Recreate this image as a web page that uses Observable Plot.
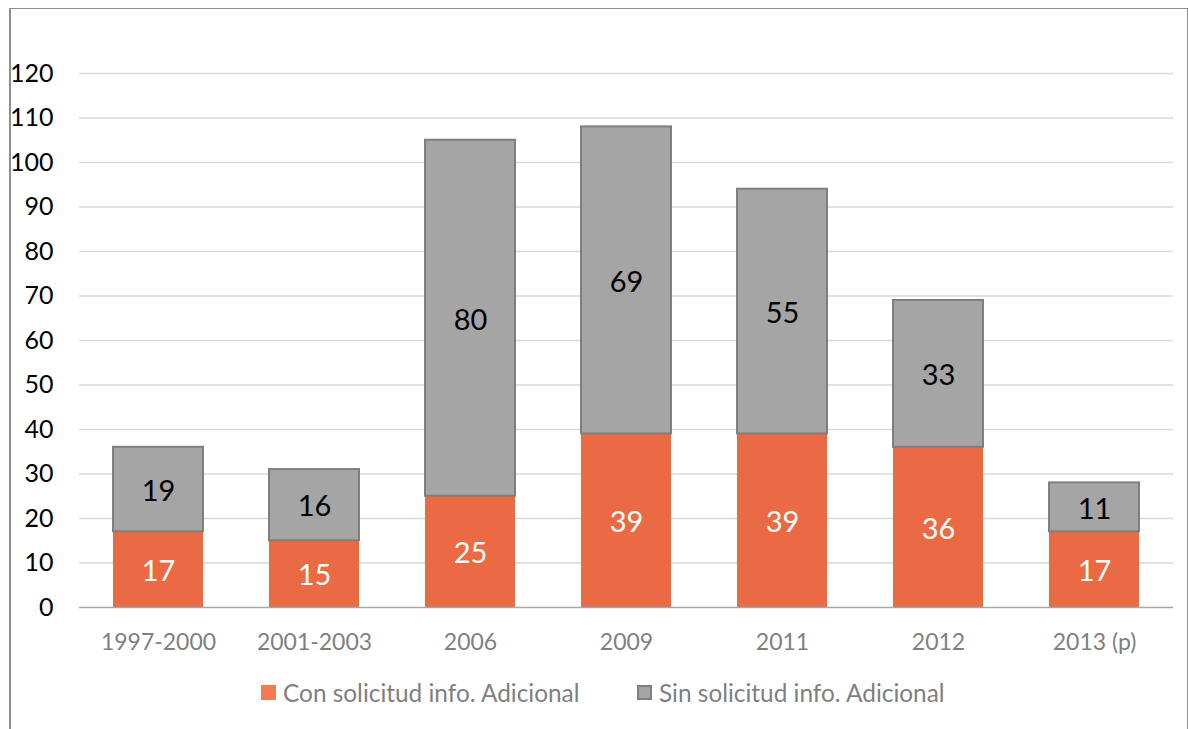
<!DOCTYPE html>
<html>
<head>
<meta charset="utf-8">
<script src="https://cdn.jsdelivr.net/npm/d3@7"></script>
<script src="https://cdn.jsdelivr.net/npm/@observablehq/plot@0.6"></script>
<style>
  html, body { margin: 0; padding: 0; background: #fff; }
  body { width: 1188px; height: 729px; position: relative; overflow: hidden; font-family: Lato, "Noto Sans", sans-serif; }
  #frame { position: absolute; left: 9px; top: 8px; width: 1176px; height: 760px;
           border-top: 1px solid #8f8f8f; border-left: 2px solid #8f8f8f; border-right: 2px solid #8f8f8f; }
  #chart { position: absolute; left: 0; top: 0; }
  #legend { position: absolute; left: 0; top: 0; width: 1188px; height: 729px; font-size: 24.4px; color: #7f7f7f; }
  .item { position: absolute; top: 678px; display: flex; align-items: center; white-space: nowrap; }
  .sw { width: 15px; height: 15px; margin-right: 7px; box-sizing: border-box; }
</style>
</head>
<body>
<div id="frame"></div>
<div id="chart"></div>
<div id="legend"></div>
<script>
const categories = ["1997-2000", "2001-2003", "2006", "2009", "2011", "2012", "2013 (p)"];
const conValues = [17, 15, 25, 39, 39, 36, 17];
const sinValues = [19, 16, 80, 69, 55, 33, 11];
const seriesNames = ["Con solicitud info. Adicional", "Sin solicitud info. Adicional"];
const yTicks = [0, 10, 20, 30, 40, 50, 60, 70, 80, 90, 100, 110, 120];

const table = [];
categories.forEach((c, i) => {
  table.push({cat: c, series: seriesNames[0], value: conValues[i]});
  table.push({cat: c, series: seriesNames[1], value: sinValues[i]});
});

const fillColors = ["#EA6A43", "#A5A5A5"];
const swatchColors = ["#F47A50", "#A5A5A5"];

const chart = Plot.plot({
  width: 1188,
  height: 670,
  marginLeft: 79,
  marginRight: 15,
  marginTop: 73,
  marginBottom: 63,
  style: {fontFamily: "Lato, 'Noto Sans', sans-serif", background: "transparent", overflow: "visible"},
  x: {domain: categories, paddingInner: 0.42, paddingOuter: 0.21, label: null},
  y: {domain: [0, 120], ticks: yTicks, label: null},
  color: {domain: seriesNames, range: fillColors},
  marks: [
    Plot.ruleY(yTicks.filter(d => d > 0), {stroke: "#d9d9d9", strokeWidth: 1.5}),
    Plot.barY(table, Plot.stackY({
      x: "cat", y: "value", fill: "series",
      stroke: d => d.series === seriesNames[1] ? "#7f7f7f" : "none",
      strokeWidth: 2
    })),
    Plot.ruleY([0], {stroke: "#a6a6a6", strokeWidth: 1.5}),
    Plot.text(table, Plot.stackY({
      x: "cat", y: "value", text: d => String(d.value),
      fill: d => d.series === seriesNames[0] ? "#ffffff" : "#000000",
      fontSize: 29, dy: 2
    })),
    Plot.axisX({tickSize: 0, tickPadding: 26, fontSize: 23, fill: "#7f7f7f", label: null}),
    Plot.axisY({ticks: yTicks, tickSize: 0, tickPadding: 26, fontSize: 25, fill: "#000", label: null})
  ]
});
document.getElementById("chart").appendChild(chart);

const legend = document.getElementById("legend");
const legendLeft = [261, 637];
seriesNames.forEach((name, i) => {
  const item = document.createElement("div");
  item.className = "item";
  item.style.left = legendLeft[i] + "px";
  const sw = document.createElement("div");
  sw.className = "sw";
  sw.style.background = swatchColors[i];
  if (i === 1) sw.style.border = "2px solid #7f7f7f";
  const label = document.createElement("span");
  label.textContent = name;
  item.appendChild(sw);
  item.appendChild(label);
  legend.appendChild(item);
});
</script>
</body>
</html>
